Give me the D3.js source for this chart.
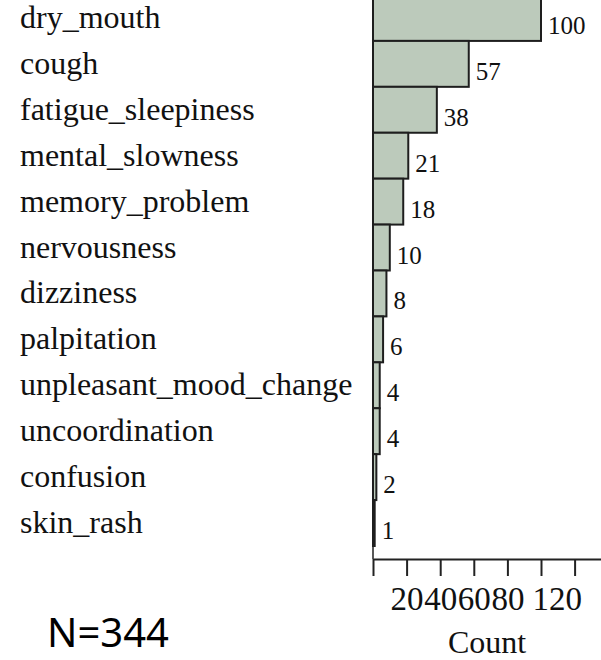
<!DOCTYPE html>
<html>
<head>
<meta charset="utf-8">
<script src="https://cdnjs.cloudflare.com/ajax/libs/d3/7.8.5/d3.min.js"></script>
<style>
  body { margin: 0; background: #fff; }
  svg { display: block; }
  .serif { font-family: "Liberation Serif", Tinos, "Times New Roman", Times, serif; }
</style>
</head>
<body>
<svg id="chart" width="601" height="660"></svg>
<script>
// datos
var categories = ["dry_mouth", "cough", "fatigue_sleepiness", "mental_slowness", "memory_problem",
  "nervousness", "dizziness", "palpitation", "unpleasant_mood_change", "uncoordination",
  "confusion", "skin_rash"];
var counts = [100, 57, 38, 21, 18, 10, 8, 6, 4, 4, 2, 1];
var tickValues = [0, 20, 40, 60, 80, 100, 120, 140];
var tickLabels = ["", "20", "40", "60", "80", "", "120", ""];
var axisTitle = "Count";
var sampleNote = "N=344";

var svg = d3.select("#chart");

var data = categories.map(function(c, i) { return {name: c, value: counts[i]}; });

var x = d3.scaleLinear().domain([0, 140]).range([373, 373 + 140 * 1.68]);
var y = d3.scaleBand().domain(categories).range([-5, 546]).padding(0);
var axisY = 559;

// etiquetas de categoria (izquierda)
svg.append("g").selectAll("text")
  .data(data).enter().append("text")
  .attr("class", "serif")
  .attr("x", 20)
  .attr("y", function(d) { return y(d.name) + y.bandwidth() / 2 + 10; })
  .style("font-size", "32px")
  .style("fill", "#111")
  .text(function(d) { return d.name; });

// linea de base hasta el eje
svg.append("line")
  .attr("x1", x(0)).attr("x2", x(0))
  .attr("y1", y.range()[1]).attr("y2", axisY)
  .attr("stroke", "#222").attr("stroke-width", 1.5);

// barras
svg.append("g").selectAll("rect")
  .data(data).enter().append("rect")
  .attr("x", x(0))
  .attr("y", function(d) { return y(d.name); })
  .attr("width", function(d) { return x(d.value) - x(0); })
  .attr("height", y.bandwidth())
  .attr("fill", "#bccabb")
  .attr("stroke", "#1e1e1e")
  .attr("stroke-width", 2);

// valores
svg.append("g").selectAll("text")
  .data(data).enter().append("text")
  .attr("class", "serif")
  .attr("x", function(d) { return x(d.value) + 7; })
  .attr("y", function(d) { return y(d.name) + y.bandwidth() / 2 + 16; })
  .style("font-size", "25px")
  .style("fill", "#111")
  .text(function(d) { return d.value; });

// eje x
var xAxis = d3.axisBottom(x)
  .tickValues(tickValues)
  .tickSize(17)
  .tickSizeOuter(0)
  .tickPadding(11)
  .tickFormat(function(d, i) { return tickLabels[i]; });

var gx = svg.append("g")
  .attr("transform", "translate(0," + axisY + ")")
  .call(xAxis)
  .attr("font-family", null)
  .attr("font-size", null);

gx.select(".domain").attr("stroke", "#222").attr("stroke-width", 2);
gx.selectAll(".tick line").attr("stroke", "#222").attr("stroke-width", 2);
gx.selectAll(".tick text")
  .attr("class", "serif")
  .style("font-size", "33px")
  .style("fill", "#111");

// la etiqueta que se sale del borde se corre a la izquierda
var rightLimit = 582;
gx.selectAll(".tick text").each(function() {
  var t = d3.select(this);
  if (!t.text()) return;
  var tr = this.parentNode.getAttribute("transform");
  var tx = +tr.match(/translate\(([-\d.]+)/)[1];
  var w = this.getComputedTextLength();
  if (tx + w / 2 > rightLimit) t.attr("x", rightLimit - w / 2 - tx);
});

// titulo del eje
svg.append("text")
  .attr("class", "serif")
  .attr("x", (x(0) + 601) / 2)
  .attr("y", 653)
  .attr("text-anchor", "middle")
  .style("font-size", "32px")
  .style("fill", "#111")
  .text(axisTitle);

// nota N
svg.append("text")
  .attr("x", 47)
  .attr("y", 647)
  .style("font-family", "'Noto Sans', 'Open Sans', sans-serif")
  .style("font-size", "40px")
  .style("fill", "#000")
  .text(sampleNote);
</script>
</body>
</html>
